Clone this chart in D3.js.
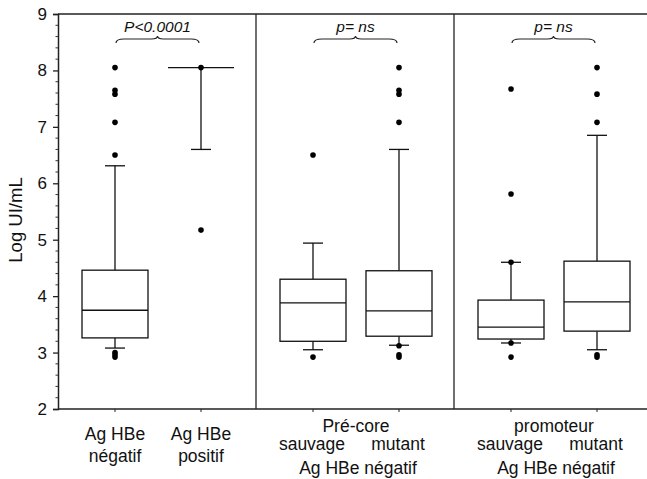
<!DOCTYPE html>
<html>
<head>
<meta charset="utf-8">
<script src="https://cdn.jsdelivr.net/npm/d3@7"></script>
<style>
  body { margin: 0; background: #fff; }
  text { font-family: "Liberation Sans", Arial, sans-serif; fill: #111; }
</style>
</head>
<body>
<svg id="chart" width="647" height="479"></svg>
<script>
// groups: panel index, slot in panel
const groups = ['neg', 'pos', 'pc_wt', 'pc_mut', 'pr_wt', 'pr_mut'];
const panelOf = [0, 0, 1, 1, 2, 2];
const slotOf = [0, 1, 0, 1, 0, 1];

const q1 = [3.26, 8.05, 3.20, 3.29, 3.24, 3.38];
const median = [3.75, 8.05, 3.88, 3.74, 3.45, 3.90];
const q3 = [4.46, 8.05, 4.30, 4.45, 3.93, 4.62];
const whiskLo = [3.08, 6.60, 3.05, 3.13, 3.17, 3.05];
const whiskHi = [6.31, 8.05, 4.94, 6.60, 4.60, 6.85];
const outliers = [
  [8.05, 7.65, 7.58, 7.08, 6.50, 3.00, 2.96, 2.92],
  [8.05, 5.17],
  [6.50, 2.92],
  [8.05, 7.65, 7.58, 7.08, 3.12, 2.96, 2.92],
  [7.67, 5.81, 4.60, 3.17, 2.92],
  [8.05, 7.58, 7.08, 2.96, 2.92]
];

const pLabels = ['P<0.0001', 'p= ns', 'p= ns'];
const panelTitles = [null, 'Pré-core', 'promoteur'];
const subLabels = [['Ag HBe', 'négatif'], ['Ag HBe', 'positif'], ['sauvage'], ['mutant'], ['sauvage'], ['mutant']];
const panelFooter = [null, 'Ag HBe négatif', 'Ag HBe négatif'];

const yTicks = [2, 3, 4, 5, 6, 7, 8, 9];

const svg = d3.select('#chart');
const mLeft = 58, mTop = 14, mBottom = 409;

const y = d3.scaleLinear().domain([2, 9]).range([mBottom, mTop]);
const xPanel = d3.scaleBand().domain([0, 1, 2]).range([mLeft, mLeft + 3 * 198]);
const xSlot = d3.scalePoint().domain([0, 1]).range([57, 143]);
const cx = i => xPanel(panelOf[i]) + xSlot(slotOf[i]);
const boxW = 66, capW = 10;

// frame
svg.append('line').attr('x1', mLeft).attr('x2', 647).attr('y1', mTop).attr('y2', mTop)
  .attr('stroke', '#222').attr('stroke-width', 1.5);
svg.append('line').attr('x1', mLeft).attr('x2', 647).attr('y1', mBottom).attr('y2', mBottom)
  .attr('stroke', '#222').attr('stroke-width', 1.5);
[1, 2].forEach(p => {
  svg.append('line').attr('x1', xPanel(p)).attr('x2', xPanel(p)).attr('y1', mTop).attr('y2', mBottom)
    .attr('stroke', '#222').attr('stroke-width', 1.3);
});

// y axis
const yAxis = svg.append('g').attr('transform', `translate(${mLeft},0)`)
  .call(d3.axisLeft(y).tickValues(yTicks).tickSize(5).tickPadding(6).tickFormat(d3.format('d')));
yAxis.select('.domain').attr('stroke', '#222').attr('stroke-width', 1.5);
yAxis.selectAll('.tick line').attr('stroke', '#222').attr('stroke-width', 1.3);
yAxis.selectAll('text').style('font-size', '17px').attr('fill', '#111');
const minor = d3.range(2, 9.001, 0.2).filter(v => Math.abs(v - Math.round(v)) > 0.01);
svg.append('g').selectAll('line').data(minor).join('line')
  .attr('x1', mLeft - 2.5).attr('x2', mLeft).attr('y1', d => y(d)).attr('y2', d => y(d))
  .attr('stroke', '#333').attr('stroke-width', 1);

svg.append('text')
  .attr('transform', `translate(22,220) rotate(-90)`)
  .attr('text-anchor', 'middle').style('font-size', '18.5px').text('Log UI/mL');

// x ticks
svg.append('g').selectAll('line').data(groups).join('line')
  .attr('x1', (d, i) => cx(i)).attr('x2', (d, i) => cx(i))
  .attr('y1', mBottom).attr('y2', mBottom + 3).attr('stroke', '#222');

// boxes
const g = svg.append('g').attr('stroke', '#111').attr('stroke-width', 1.3).attr('fill', 'none');
groups.forEach((k, i) => {
  const x = cx(i);
  g.append('line').attr('x1', x).attr('x2', x).attr('y1', y(whiskLo[i])).attr('y2', y(q1[i]));
  g.append('line').attr('x1', x).attr('x2', x).attr('y1', y(q3[i])).attr('y2', y(whiskHi[i]));
  const hiCap = i === 1 ? boxW / 2 : capW;
  g.append('line').attr('x1', x - hiCap).attr('x2', x + hiCap).attr('y1', y(whiskHi[i])).attr('y2', y(whiskHi[i]));
  g.append('line').attr('x1', x - capW).attr('x2', x + capW).attr('y1', y(whiskLo[i])).attr('y2', y(whiskLo[i]));
  if (q3[i] > q1[i]) {
    g.append('rect').attr('x', x - boxW / 2).attr('width', boxW)
      .attr('y', y(q3[i])).attr('height', y(q1[i]) - y(q3[i])).attr('fill', '#fff');
    g.append('line').attr('x1', x - boxW / 2).attr('x2', x + boxW / 2)
      .attr('y1', y(median[i])).attr('y2', y(median[i]));
  }
  svg.append('g').selectAll('circle').data(outliers[i]).join('circle')
    .attr('cx', x).attr('cy', d => y(d)).attr('r', 2.8).attr('fill', '#000');
});

// brackets and p labels
[0, 1, 2].forEach(p => {
  const x1 = cx(p * 2) + 1, x2 = cx(p * 2 + 1) - 2, m = (x1 + x2) / 2;
  const yb = 43, yt = 37;
  const path = `M${x1},${yb} Q${x1},${yt + 2} ${x1 + 8},${yt + 2} L${m - 6},${yt + 2} Q${m},${yt + 2} ${m},${yt - 1}` +
    ` Q${m},${yt + 2} ${m + 6},${yt + 2} L${x2 - 8},${yt + 2} Q${x2},${yt + 2} ${x2},${yb}`;
  svg.append('path').attr('d', path).attr('fill', 'none').attr('stroke', '#222').attr('stroke-width', 1.2);
  svg.append('text').attr('x', m).attr('y', 32).attr('text-anchor', 'middle')
    .style('font-size', '15.5px').style('font-style', 'italic').text(pLabels[p]);
});

// x labels
const lab = svg.append('g').style('font-size', '17.5px').attr('text-anchor', 'middle');
groups.forEach((k, i) => {
  const lines = subLabels[i];
  const y0 = panelOf[i] === 0 ? 440 : 450;
  lines.forEach((t, j) => lab.append('text').attr('x', cx(i) - (panelOf[i] === 0 ? 0 : 1)).attr('y', y0 + j * 22).text(t));
});
[1, 2].forEach(p => {
  const m = (cx(p * 2) + cx(p * 2 + 1)) / 2;
  lab.append('text').attr('x', m).attr('y', 432).text(panelTitles[p]);
  lab.append('text').attr('x', m + 2).attr('y', 474).text(panelFooter[p]);
});
</script>
</body>
</html>
